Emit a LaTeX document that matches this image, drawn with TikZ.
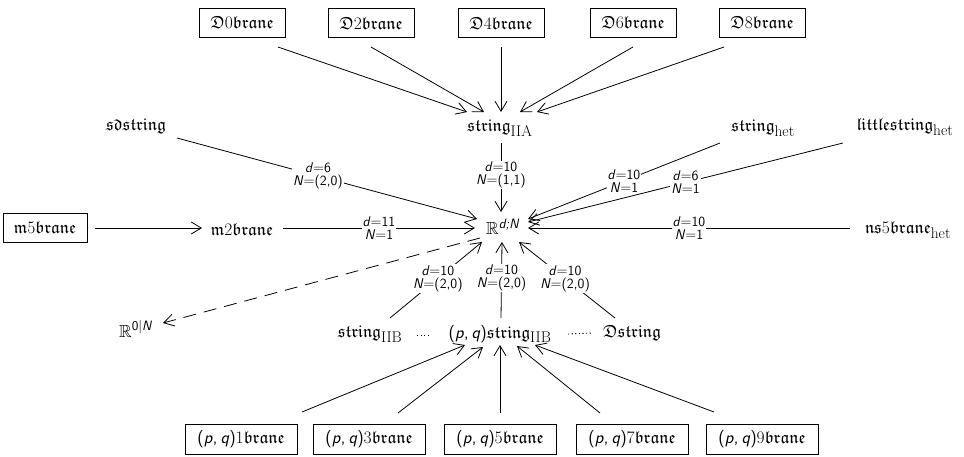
\documentclass[tikz,border=0pt]{standalone}
\usepackage{amsmath,amssymb}
\usetikzlibrary{arrows.meta,calc}
\newcommand\si[1]{\textsf{\itshape #1}}
\newcommand\sn[1]{\textsf{#1}}
\newcommand\pq{\sn{(}\si{p}\sn{,}\hspace{3pt}\si{q}\sn{)}}
\newcommand\dg[1]{\text{\rmfamily #1}}
\newcommand\sbt[1]{_{\text{\fontsize{15.5}{16}\selectfont\rmfamily #1}}}
\newcommand\spt[1]{^{\text{\fontsize{13.5}{14}\selectfont #1}}}
\newcommand\lbtxt[2]{\si{d}$=$\sn{#1}\\\si{N}$=$\sn{#2}}
\begin{document}
\begin{tikzpicture}[x=1pt,y=-1pt,
  every node/.style={font=\fontsize{17.5}{19}\selectfont, inner sep=0pt},
  box/.style={draw, line width=0.8pt, minimum width=86pt, minimum height=29pt},
  bbox/.style={draw, line width=0.8pt, minimum width=112pt, minimum height=30pt},
  lbl/.style={fill=white, align=center, font=\fontsize{14}{13}\selectfont, inner sep=1pt},
  arr/.style={line width=0.8pt, -{Straight Barb[length=10pt,width=12pt]}},
  dasharr/.style={line width=0.8pt, dash pattern=on 13pt off 8pt, -{Straight Barb[length=10pt,width=12pt]}},
  dotline/.style={line width=0.9pt, dash pattern=on 1.2pt off 2.4pt}]
\useasboundingbox (0,0) rectangle (964,456);
% top boxes
\node[box] (D0) at (242,23) {$\mathfrak{D}\dg{0}\mathfrak{brane}$};
\node[box] (D2) at (371,23) {$\mathfrak{D}\dg{2}\mathfrak{brane}$};
\node[box] (D4) at (501,23) {$\mathfrak{D}\dg{4}\mathfrak{brane}$};
\node[box] (D6) at (633,23) {$\mathfrak{D}\dg{6}\mathfrak{brane}$};
\node[box] (D8) at (762,23) {$\mathfrak{D}\dg{8}\mathfrak{brane}$};
% row 2
\node (sd) at (136,126) {$\mathfrak{sdstring}$};
\node (IIA) at (500,128) {$\mathfrak{string}\sbt{IIA}$};
\node (het) at (763,128) {$\mathfrak{string}\sbt{het}$};
\node (lit) at (905,127) {$\mathfrak{littlestring}\sbt{het}$};
% row 3
\node[draw, line width=0.8pt, minimum width=84pt, minimum height=29pt] (m5) at (45,228) {$\mathfrak{m}\dg{5}\mathfrak{brane}$};
\node (m2) at (242,229) {$\mathfrak{m}\dg{2}\mathfrak{brane}$};
\node (R) at (503,227) {$\mathbb{R}\spt{\si{d;N}}$};
\node (ns5) at (908,230) {$\mathfrak{ns}\dg{5}\mathfrak{brane}\sbt{het}$};
% row 4
\node (R0) at (136,329) {$\mathbb{R}\spt{\sn{0}|\si{N}}$};
\node (IIB) at (370,334) {$\mathfrak{string}\sbt{IIB}$};
\node (pq) at (500,334) {\pq$\mathfrak{string}\sbt{IIB}$};
\node (Ds) at (632,333) {$\mathfrak{Dstring}$};
% bottom boxes
\node[bbox] (B1) at (241,439) {\pq$\dg{1}\mathfrak{brane}$};
\node[bbox] (B3) at (369,439) {\pq$\dg{3}\mathfrak{brane}$};
\node[bbox] (B5) at (500,439) {\pq$\dg{5}\mathfrak{brane}$};
\node[bbox] (B7) at (632,439) {\pq$\dg{7}\mathfrak{brane}$};
\node[bbox] (B9) at (762,439) {\pq$\dg{9}\mathfrak{brane}$};
% top arrows
\draw[arr] ($(D0)+(36,24)$) -- ($(IIA)+(-33,-16)$);
\draw[arr] ($(D2)+(0,24)$) -- ($(IIA)+(-16,-16)$);
\draw[arr] ($(D4)+(0,24)$) -- ($(IIA)+(1,-16)$);
\draw[arr] ($(D6)+(0,24)$) -- ($(IIA)+(20,-16)$);
\draw[arr] ($(D8)+(-38,24)$) -- ($(IIA)+(37,-16)$);
% into R
\draw[arr] ($(sd)+(41,12)$) -- node[lbl, pos=0.47] {\lbtxt{6}{(2,0)}} ($(R)+(-26,-8)$);
\draw[arr] ($(IIA)+(1,15)$) -- node[lbl, pos=0.46] {\lbtxt{10}{(1,1)}} ($(R)+(-2,-15)$);
\draw[arr] ($(het)+(-43,15)$) -- node[lbl] {\lbtxt{10}{1}} ($(R)+(25,-8)$);
\draw[arr] ($(lit)+(-62,16)$) -- node[lbl] {\lbtxt{6}{1}} ($(R)+(25,-5)$);
\draw[arr] ($(ns5)+(-58,-2)$) -- node[lbl] {\lbtxt{10}{1}} ($(R)+(25,1)$);
\draw[arr] ($(m5)+(50,0)$) -- ($(m2)+(-40,-1)$);
\draw[arr] ($(m2)+(41,-1)$) -- node[lbl] {\lbtxt{11}{1}} ($(R)+(-28,1)$);
\draw[arr] ($(IIB)+(20,-16)$) -- node[lbl, pos=0.52] {\lbtxt{10}{(2,0)}} ($(R)+(-21,15)$);
\draw[arr] ($(pq)+(1,-16)$) -- node[lbl, pos=0.53] {\lbtxt{10}{(2,0)}} ($(R)+(-1,15)$);
\draw[arr] ($(Ds)+(-17,-15)$) -- node[lbl, pos=0.52] {\lbtxt{10}{(2,0)}} ($(R)+(16,15)$);
\draw[dasharr] ($(R)+(-23,11)$) -- ($(R0)+(27,-6)$);
% dots
\draw[dotline] ($(IIB)+(47,1)$) -- ($(pq)+(-70,1)$);
\draw[dotline] ($(pq)+(68,0)$) -- ($(Ds)+(-39,0)$);
% bottom arrows
\draw[arr] ($(B1)+(61,-27)$) -- ($(pq)+(-35,11)$);
\draw[arr] ($(B3)+(29,-26)$) -- ($(pq)+(-17,13)$);
\draw[arr] ($(B5)+(0,-26)$) -- ($(pq)+(0,11)$);
\draw[arr] ($(B7)+(-32,-26)$) -- ($(pq)+(17,12)$);
\draw[arr] ($(B9)+(-48,-27)$) -- ($(pq)+(35,11)$);
\end{tikzpicture}
\end{document}
